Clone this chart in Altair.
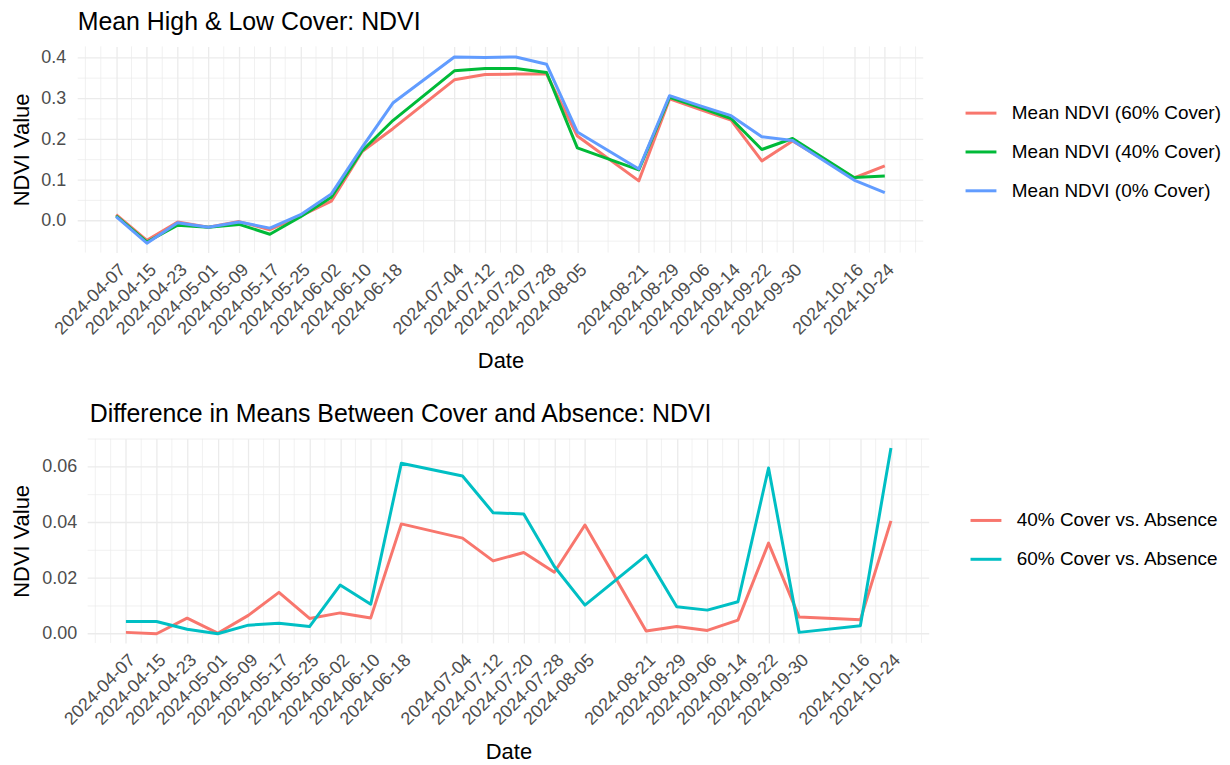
import altair as alt
import pandas as pd

# ---------------- data ----------------
dates = ["2024-04-07", "2024-04-15", "2024-04-23", "2024-05-01", "2024-05-09",
         "2024-05-17", "2024-05-25", "2024-06-02", "2024-06-10", "2024-06-18",
         "2024-07-04", "2024-07-12", "2024-07-20", "2024-07-28", "2024-08-05",
         "2024-08-21", "2024-08-29", "2024-09-06", "2024-09-14", "2024-09-22",
         "2024-09-30", "2024-10-16", "2024-10-24"]

ndvi_60 = [0.015, -0.048, -0.003, -0.016, -0.002, -0.022, 0.012, 0.048, 0.170, 0.226,
           0.346, 0.359, 0.360, 0.360, 0.208, 0.098, 0.299, 0.273, 0.247, 0.147,
           0.196, 0.105, 0.135]
ndvi_40 = [0.012, -0.052, -0.011, -0.016, -0.009, -0.033, 0.010, 0.058, 0.172, 0.246,
           0.368, 0.374, 0.374, 0.364, 0.179, 0.125, 0.303, 0.278, 0.251, 0.175,
           0.202, 0.106, 0.110]
ndvi_0 = [0.010, -0.055, -0.005, -0.016, -0.003, -0.018, 0.015, 0.066, 0.180, 0.289,
          0.402, 0.401, 0.402, 0.384, 0.218, 0.127, 0.307, 0.282, 0.258, 0.206,
          0.197, 0.100, 0.069]

diff_40 = [0.0005, 0.0000, 0.0056, 0.0002, 0.0066, 0.0149, 0.0055, 0.0075, 0.0057, 0.0395,
           0.0344, 0.0262, 0.0292, 0.0221, 0.0391, 0.0010, 0.0026, 0.0012, 0.0049, 0.0326,
           0.0060, 0.0050, 0.0406]
diff_60 = [0.0044, 0.0044, 0.0016, 0.0000, 0.0031, 0.0038, 0.0026, 0.0175, 0.0106, 0.0613,
           0.0567, 0.0435, 0.0431, 0.0242, 0.0103, 0.0282, 0.0097, 0.0085, 0.0115, 0.0596,
           0.0005, 0.0029, 0.0668]

series_top = ["Mean NDVI (60% Cover)", "Mean NDVI (40% Cover)", "Mean NDVI (0% Cover)"]
colors_top = ["#F8766D", "#00BA38", "#619CFF"]
series_bot = ["40% Cover vs. Absence", "60% Cover vs. Absence"]
colors_bot = ["#F8766D", "#00BFC4"]

top_ticks = [0.0, 0.1, 0.2, 0.3, 0.4]
top_minor = [-0.05, 0.05, 0.15, 0.25, 0.35]
bot_ticks = [0.00, 0.02, 0.04, 0.06]
bot_minor = [0.01, 0.03, 0.05, 0.07]

# ---------------- derived tables ----------------
top_df = pd.DataFrame({
    "date": dates * 3,
    "value": ndvi_60 + ndvi_40 + ndvi_0,
    "series": [s for s in series_top for _ in dates],
})
bot_df = pd.DataFrame({
    "date": dates * 2,
    "value": diff_40 + diff_60,
    "series": [s for s in series_bot for _ in dates],
})

# minor vertical grid: midpoints between breaks (ggplot style), plus extended ends
d = pd.to_datetime(dates)
step = d[1] - d[0]
ext = [d[0] - step] + list(d) + [d[-1] + step]
minor_x = [ext[0]]
for a, b in zip(ext[:-1], ext[1:]):
    minor_x.append(a + (b - a) / 2)
minor_x.append(ext[-1])
minor_x = sorted(set(minor_x) - set(d))
minor_x_df = pd.DataFrame({"date": [m.strftime("%Y-%m-%d") for m in minor_x]})


def dt(s):
    y, m, dd = map(int, s.split("-"))
    return alt.DateTime(year=y, month=m, date=dd, utc=True)


X_START, X_END = "2024-03-28", "2024-11-03"

FONT = "Liberation Sans"
GRID = "#EBEBEB"


def x_axis():
    return alt.Axis(values=[dt(s) for s in dates],
                    labelExpr="utcFormat(datum.value, '%Y-%m-%d')",
                    labelAngle=-45, labelAlign="right", labelBaseline="top",
                    labelOverlap=False, labelFlush=False, labelBound=False,
                    labelFontSize=18, labelColor="#4D4D4D", labelPadding=8,
                    ticks=False, domain=False, grid=True, gridColor=GRID, gridWidth=1.3,
                    title="Date", titleFontSize=22, titleFontWeight="normal",
                    titleColor="black", titlePadding=13, minExtent=0)


def y_axis(vals, fmt, lpad):
    return alt.Axis(values=vals, format=fmt, labelFontSize=18, labelColor="#4D4D4D",
                    labelPadding=lpad, ticks=False, domain=False, grid=False,
                    title="NDVI Value", titleFontSize=22, titleFontWeight="normal",
                    titleColor="black", titleX=-56, titleBaseline="middle",
                    minExtent=0)


def legend(lx, ly):
    return alt.Legend(title=None, orient="none", legendX=lx, legendY=ly,
                      symbolType="stroke", symbolStrokeWidth=3, symbolSize=961,
                      labelFontSize=19, labelColor="black", labelLimit=400,
                      labelOffset=14, rowPadding=12, padding=0)


def panel(df, series, colors, y_domain, ticks, fmt, minor_y, title, w, x0, h,
          lpad, lx, ly, tdx):
    x_scale = alt.Scale(type="utc", domain=[dt(X_START), dt(X_END)], range=[x0, w])
    y_scale = alt.Scale(domain=y_domain, nice=False, zero=False)
    xa = alt.X("date:T", scale=x_scale, axis=x_axis())
    ya = alt.Y("value:Q", scale=y_scale, axis=y_axis(ticks, fmt, lpad))
    x_lo = alt.XDatum(dt(X_START), type="temporal", scale=x_scale, axis=x_axis())
    x_hi = alt.X2Datum(dt(X_END))
    vminor = alt.Chart(minor_x_df).mark_rule(color=GRID, strokeWidth=0.7).encode(x=xa)
    hminor = alt.Chart(pd.DataFrame({"value": minor_y})).mark_rule(
        color=GRID, strokeWidth=0.7).encode(y=ya, x=x_lo, x2=x_hi)
    hmajor = alt.Chart(pd.DataFrame({"value": ticks})).mark_rule(
        color=GRID, strokeWidth=1.3).encode(y=ya, x=x_lo, x2=x_hi)
    lines = alt.Chart(df).mark_line(strokeWidth=3, strokeJoin="round").encode(
        x=xa,
        y=ya,
        color=alt.Color("series:N", scale=alt.Scale(domain=series, range=colors),
                        legend=legend(lx, ly)),
    )
    return alt.layer(vminor, hminor, hmajor, lines).properties(
        width=w, height=h,
        title=alt.TitleParams(title, anchor="start", frame="group", fontSize=25,
                              fontWeight="normal", color="black", offset=11, dx=tdx),
    )


top = panel(top_df, series_top, colors_top, [-0.078, 0.428], top_ticks, ".1f", top_minor,
            "Mean High & Low Cover: NDVI", 849, 0, 207, 12, 890, 50, 0)
bot = panel(bot_df, series_bot, colors_bot, [-0.0033, 0.0701], bot_ticks, ".2f", bot_minor,
            "Difference in Means Between Cover and Absence: NDVI", 855, 10, 205,
            1, 895, 65, 12)

chart = alt.concat(top, bot, columns=1, spacing=30, align="none").resolve_scale(
    x="independent", y="independent", color="independent").properties(
    padding={"left": 3, "top": 0, "right": 0, "bottom": 0}
).configure(font=FONT).configure_view(stroke=None)

chart.save("out.html", embed_options={"renderer": "svg", "actions": False})
